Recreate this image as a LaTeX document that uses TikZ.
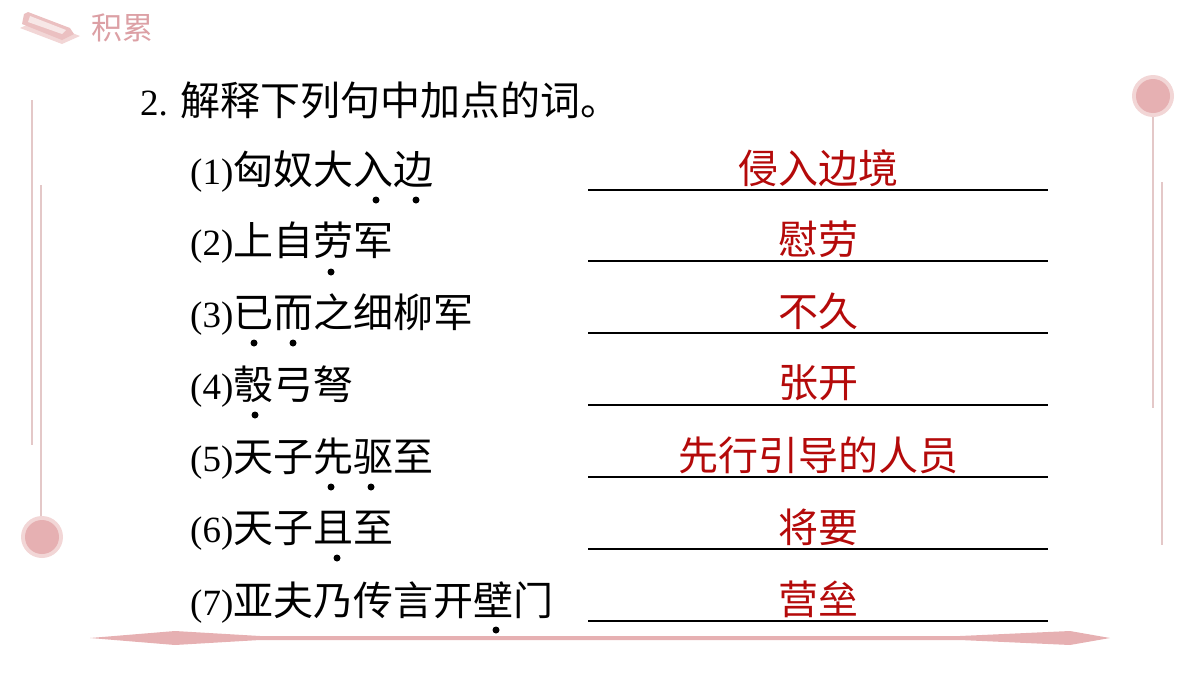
\documentclass[tikz,border=0pt]{standalone}
\usepackage{fontspec}
\setmainfont{Liberation Serif}
\newfontfamily\cjk{Noto Sans CJK SC}
\definecolor{pinkl}{RGB}{228,200,200}
\definecolor{pinkc}{RGB}{230,176,178}
\definecolor{pinkr}{RGB}{242,214,214}
\definecolor{ansred}{RGB}{180,10,10}
\definecolor{headc}{RGB}{220,160,165}
\tikzset{
 q/.style={anchor=west,inner sep=0pt,font=\fontsize{37}{40}\selectfont},
 ans/.style={inner sep=0pt,text=ansred,font=\fontsize{40}{42}\selectfont\cjk},
 uline/.style={line width=1.2pt,black},
 emdot/.style={circle,fill=black,inner sep=0pt,minimum size=7pt},
 deco/.style={pinkl,line width=1.5pt},
}
\newcommand\cj[1]{{\fontsize{40}{42}\selectfont\cjk #1}}
\begin{document}
\begin{tikzpicture}[x=1pt,y=-1pt]
\useasboundingbox (0,0) rectangle (1200,675);
% decorations
\draw[deco] (32,100) -- (32,445);
\draw[deco] (41,185) -- (41,520);
\fill[pinkr] (42,537) circle (21);
\fill[pinkc] (42,537) circle (17);
\draw[deco] (1153,110) -- (1153,408);
\draw[deco] (1162,182) -- (1162,545);
\fill[pinkr] (1153,96) circle (21);
\fill[pinkc] (1153,96) circle (17);
\fill[pinkc] (90,638) -- (175,631) -- (260,636) -- (960,636) -- (1070,631) -- (1110,638) -- (1070,645) -- (960,640) -- (260,640) -- (175,645) -- cycle;
% header book icon
\fill[pinkr] (20,28) -- (62,44) -- (80,36) -- (38,20) -- cycle;
\fill[pinkc!80] (24,14) -- (28,12) -- (70,28) -- (74,34) -- (62,40) -- (22,24) -- cycle;
\fill[pinkr!60] (30,16) -- (66,30) -- (62,34) -- (28,22) -- cycle;
\node[anchor=west,inner sep=0pt,text=headc,font=\fontsize{31}{33}\selectfont\cjk] (head) at (91,28) {积累};
% title
\node[q] (title) at (140,100) {2. \cj{解释下列句中加点的词。}};
\foreach \i/\txt/\ans/\y in {1/匈奴大入边/侵入边境/172,2/上自劳军/慰劳/243,3/已而之细柳军/不久/315,4/彀弓弩/张开/387,5/天子先驱至/先行引导的人员/459,6/天子且至/将要/531,7/亚夫乃传言开壁门/营垒/603}{
  \node[q] (q\i) at (190,\y) {(\i)\cj{\txt}};
  \coordinate (ls\i) at (588,\y+18);
  \coordinate (le\i) at (1048,\y+18);
  \draw[uline] (ls\i) -- (le\i);
  \node[ans] (a\i) at (818,\y-4) {\ans};
}
\foreach \x/\y in {376/200,416/200,331/272,254/343,293/343,255/415,331/487,371/487,337/558,496/630}
  \node[emdot] at (\x,\y) {};
\end{tikzpicture}
\end{document}
